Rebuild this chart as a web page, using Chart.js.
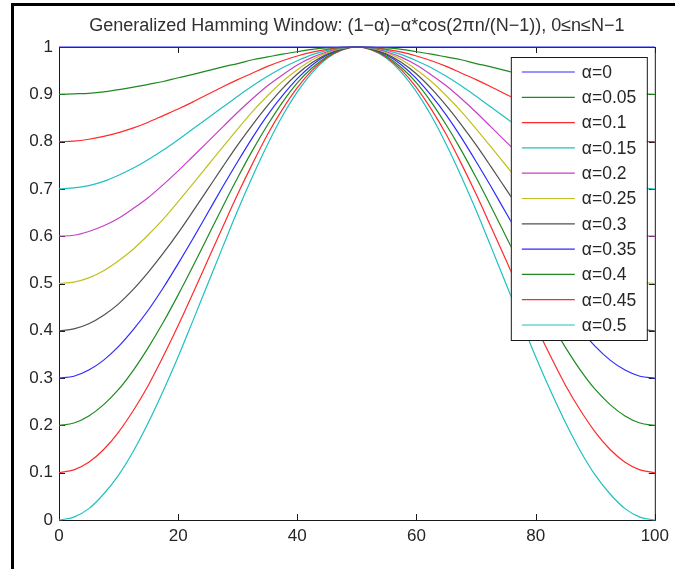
<!DOCTYPE html>
<html>
<head>
<meta charset="utf-8">
<title>Generalized Hamming Window</title>
<script src="https://cdn.jsdelivr.net/npm/chart.js@4.4.1/dist/chart.umd.min.js"></script>
<style>
  html, body { margin: 0; padding: 0; background: #fff; }
  canvas { display: block; }
</style>
</head>
<body>
<canvas id="hammingChart" width="675" height="569"></canvas>
<script>
// Sample index n, every 2.5 samples of N = 101
const nValues = [0, 2.5, 5, 7.5, 10, 12.5, 15, 17.5, 20, 22.5, 25, 27.5, 30, 32.5, 35, 37.5, 40, 42.5, 45, 47.5, 50,
                 52.5, 55, 57.5, 60, 62.5, 65, 67.5, 70, 72.5, 75, 77.5, 80, 82.5, 85, 87.5, 90, 92.5, 95, 97.5, 100];

const alphaLabels = ['α=0', 'α=0.05', 'α=0.1', 'α=0.15', 'α=0.2', 'α=0.25',
                     'α=0.3', 'α=0.35', 'α=0.4', 'α=0.45', 'α=0.5'];

// Window values w(n) for each alpha
const wAlpha000 = [1, 1, 1, 1, 1, 1, 1, 1, 1, 1, 1, 1, 1, 1, 1, 1, 1, 1, 1, 1, 1,
                   1, 1, 1, 1, 1, 1, 1, 1, 1, 1, 1, 1, 1, 1, 1, 1, 1, 1, 1, 1];
const wAlpha005 = [0.900, 0.901, 0.902, 0.905, 0.910, 0.915, 0.921, 0.927, 0.935, 0.942, 0.950,
                   0.958, 0.965, 0.973, 0.979, 0.985, 0.990, 0.995, 0.998, 0.999, 1.000,
                   0.999, 0.998, 0.995, 0.990, 0.985, 0.979, 0.973, 0.965, 0.958, 0.950,
                   0.942, 0.935, 0.927, 0.921, 0.915, 0.910, 0.905, 0.902, 0.901, 0.900];
const wAlpha010 = [0.800, 0.801, 0.805, 0.811, 0.819, 0.829, 0.841, 0.855, 0.869, 0.884, 0.900,
                   0.916, 0.931, 0.945, 0.959, 0.971, 0.981, 0.989, 0.995, 0.999, 1.000,
                   0.999, 0.995, 0.989, 0.981, 0.971, 0.959, 0.945, 0.931, 0.916, 0.900,
                   0.884, 0.869, 0.855, 0.841, 0.829, 0.819, 0.811, 0.805, 0.801, 0.800];
const wAlpha015 = [0.700, 0.702, 0.707, 0.716, 0.729, 0.744, 0.762, 0.782, 0.804, 0.827, 0.850,
                   0.873, 0.896, 0.918, 0.938, 0.956, 0.971, 0.984, 0.993, 0.998, 1.000,
                   0.998, 0.993, 0.984, 0.971, 0.956, 0.938, 0.918, 0.896, 0.873, 0.850,
                   0.827, 0.804, 0.782, 0.762, 0.744, 0.729, 0.716, 0.707, 0.702, 0.700];
const wAlpha020 = [0.600, 0.602, 0.610, 0.622, 0.638, 0.659, 0.682, 0.709, 0.738, 0.769, 0.800,
                   0.831, 0.862, 0.891, 0.918, 0.941, 0.962, 0.978, 0.990, 0.998, 1.000,
                   0.998, 0.990, 0.978, 0.962, 0.941, 0.918, 0.891, 0.862, 0.831, 0.800,
                   0.769, 0.738, 0.709, 0.682, 0.659, 0.638, 0.622, 0.610, 0.602, 0.600];
const wAlpha025 = [0.500, 0.503, 0.512, 0.527, 0.548, 0.573, 0.603, 0.636, 0.673, 0.711, 0.750,
                   0.789, 0.827, 0.864, 0.897, 0.927, 0.952, 0.973, 0.988, 0.997, 1.000,
                   0.997, 0.988, 0.973, 0.952, 0.927, 0.897, 0.864, 0.827, 0.789, 0.750,
                   0.711, 0.673, 0.636, 0.603, 0.573, 0.548, 0.527, 0.512, 0.503, 0.500];
const wAlpha030 = [0.400, 0.404, 0.415, 0.433, 0.457, 0.488, 0.524, 0.564, 0.607, 0.653, 0.700,
                   0.747, 0.793, 0.836, 0.876, 0.912, 0.943, 0.967, 0.985, 0.996, 1.000,
                   0.996, 0.985, 0.967, 0.943, 0.912, 0.876, 0.836, 0.793, 0.747, 0.700,
                   0.653, 0.607, 0.564, 0.524, 0.488, 0.457, 0.433, 0.415, 0.404, 0.400];
const wAlpha035 = [0.300, 0.304, 0.317, 0.338, 0.367, 0.403, 0.444, 0.491, 0.542, 0.595, 0.650,
                   0.705, 0.758, 0.809, 0.856, 0.897, 0.933, 0.962, 0.983, 0.996, 1.000,
                   0.996, 0.983, 0.962, 0.933, 0.897, 0.856, 0.809, 0.758, 0.705, 0.650,
                   0.595, 0.542, 0.491, 0.444, 0.403, 0.367, 0.338, 0.317, 0.304, 0.300];
const wAlpha040 = [0.200, 0.205, 0.220, 0.244, 0.276, 0.317, 0.365, 0.418, 0.476, 0.537, 0.600,
                   0.663, 0.724, 0.782, 0.835, 0.883, 0.924, 0.956, 0.980, 0.995, 1.000,
                   0.995, 0.980, 0.956, 0.924, 0.883, 0.835, 0.782, 0.724, 0.663, 0.600,
                   0.537, 0.476, 0.418, 0.365, 0.317, 0.276, 0.244, 0.220, 0.205, 0.200];
const wAlpha045 = [0.100, 0.106, 0.122, 0.149, 0.186, 0.232, 0.285, 0.346, 0.411, 0.480, 0.550,
                   0.620, 0.689, 0.754, 0.815, 0.868, 0.914, 0.951, 0.978, 0.994, 1.000,
                   0.994, 0.978, 0.951, 0.914, 0.868, 0.815, 0.754, 0.689, 0.620, 0.550,
                   0.480, 0.411, 0.346, 0.285, 0.232, 0.186, 0.149, 0.122, 0.106, 0.100];
const wAlpha050 = [0.000, 0.006, 0.024, 0.055, 0.095, 0.146, 0.206, 0.273, 0.345, 0.422, 0.500,
                   0.578, 0.655, 0.727, 0.794, 0.854, 0.905, 0.946, 0.976, 0.994, 1.000,
                   0.994, 0.976, 0.946, 0.905, 0.854, 0.794, 0.727, 0.655, 0.578, 0.500,
                   0.422, 0.345, 0.273, 0.206, 0.146, 0.095, 0.055, 0.024, 0.006, 0.000];

const xTickValues = [0, 20, 40, 60, 80, 100];
const xTickLabels = ['0', '20', '40', '60', '80', '100'];
const yTickValues = [0, 0.1, 0.2, 0.3, 0.4, 0.5, 0.6, 0.7, 0.8, 0.9, 1];
const yTickLabels = ['0', '0.1', '0.2', '0.3', '0.4', '0.5', '0.6', '0.7', '0.8', '0.9', '1'];

const titleText = 'Generalized Hamming Window: (1\u2212α)\u2212α*cos(2πn/(N\u22121)), 0≤n≤N\u22121';

const series = [wAlpha000, wAlpha005, wAlpha010, wAlpha015, wAlpha020, wAlpha025,
                wAlpha030, wAlpha035, wAlpha040, wAlpha045, wAlpha050];

// matlab-ish default line color order (b g r c m y k)
const colorOrder = ['#2b2bff', '#1f8a1f', '#ff2b2b', '#20c0c0', '#c640c6', '#c0c020', '#505050'];

const FONT = '"Liberation Sans", Arial, Helvetica, sans-serif';
const TICK = 6;

const datasets = series.map((ys, i) => ({
    label: alphaLabels[i],
    data: nValues.map((n, k) => ({ x: n, y: ys[k] })),
    borderColor: colorOrder[i % colorOrder.length],
    borderWidth: 1.2,
    pointRadius: 0,
    fill: false,
    cubicInterpolationMode: 'monotone',
    clip: false
}));

// box around the axes with inward tick marks
const axesBox = {
    id: 'axesBox',
    beforeDatasetsDraw(chart) {
        const { ctx, chartArea: a, scales } = chart;
        ctx.save();
        ctx.strokeStyle = '#1a1a1a';
        ctx.lineWidth = 1;
        ctx.strokeRect(a.left + 0.5, a.top + 0.5, a.right - a.left, a.bottom - a.top);
        ctx.beginPath();
        xTickValues.forEach(v => {
            const px = Math.round(scales.x.getPixelForValue(v)) + 0.5;
            ctx.moveTo(px, a.bottom);
            ctx.lineTo(px, a.bottom - TICK);
            ctx.moveTo(px, a.top);
            ctx.lineTo(px, a.top + TICK);
        });
        yTickValues.forEach(v => {
            const py = Math.round(scales.y.getPixelForValue(v)) + 0.5;
            ctx.moveTo(a.left, py);
            ctx.lineTo(a.left + TICK, py);
            ctx.moveTo(a.right, py);
            ctx.lineTo(a.right - TICK, py);
        });
        ctx.stroke();
        ctx.restore();
    },
    afterDraw(chart) {
        const { ctx, chartArea: a } = chart;
        ctx.save();

        // title
        ctx.fillStyle = '#303030';
        ctx.font = '18px ' + FONT;
        ctx.textAlign = 'center';
        ctx.textBaseline = 'alphabetic';
        ctx.fillText(titleText, (a.left + a.right) / 2, 31);

        // legend
        const boxL = a.right - 144, boxT = a.top + 10, boxW = 136, boxH = 283;
        ctx.fillStyle = '#fff';
        ctx.fillRect(boxL, boxT, boxW, boxH);
        ctx.strokeStyle = '#1a1a1a';
        ctx.lineWidth = 1;
        ctx.strokeRect(boxL + 0.5, boxT + 0.5, boxW, boxH);
        ctx.font = '17.5px ' + FONT;
        ctx.textAlign = 'left';
        ctx.textBaseline = 'middle';
        chart.data.datasets.forEach((ds, i) => {
            const y = boxT + 15 + i * 25.3;
            ctx.strokeStyle = ds.borderColor;
            ctx.lineWidth = 1.2;
            ctx.beginPath();
            ctx.moveTo(boxL + 11, y);
            ctx.lineTo(boxL + 64, y);
            ctx.stroke();
            ctx.fillStyle = '#262626';
            ctx.fillText(ds.label, boxL + 71, y + 1);
        });

        // figure frame
        ctx.fillStyle = '#000';
        ctx.fillRect(11, 3, chart.width - 11, 3);
        ctx.fillRect(11, 3, 3, chart.height - 3);
        ctx.restore();
    }
};

new Chart(document.getElementById('hammingChart'), {
    type: 'line',
    data: { datasets: datasets },
    options: {
        responsive: false,
        animation: false,
        layout: { padding: { top: 47, right: 19, left: 0, bottom: 0 } },
        plugins: {
            legend: { display: false },
            title: { display: false },
            tooltip: { enabled: false }
        },
        scales: {
            x: {
                type: 'linear',
                min: 0,
                max: 100,
                afterBuildTicks: s => { s.ticks = xTickValues.map(v => ({ value: v })); },
                afterFit: s => { s.height = 49; },
                grid: { display: false, drawTicks: false },
                border: { display: false },
                ticks: {
                    padding: 6,
                    color: '#262626',
                    font: { family: FONT, size: 17 },
                    maxRotation: 0,
                    callback: (v, i) => xTickLabels[i]
                }
            },
            y: {
                type: 'linear',
                min: 0,
                max: 1,
                afterBuildTicks: s => { s.ticks = yTickValues.map(v => ({ value: v })); },
                afterFit: s => { s.width = 59; },
                grid: { display: false, drawTicks: false },
                border: { display: false },
                ticks: {
                    padding: 6,
                    color: '#262626',
                    font: { family: FONT, size: 17 },
                    callback: (v, i) => yTickLabels[i]
                }
            }
        }
    },
    plugins: [axesBox]
});
</script>
</body>
</html>
